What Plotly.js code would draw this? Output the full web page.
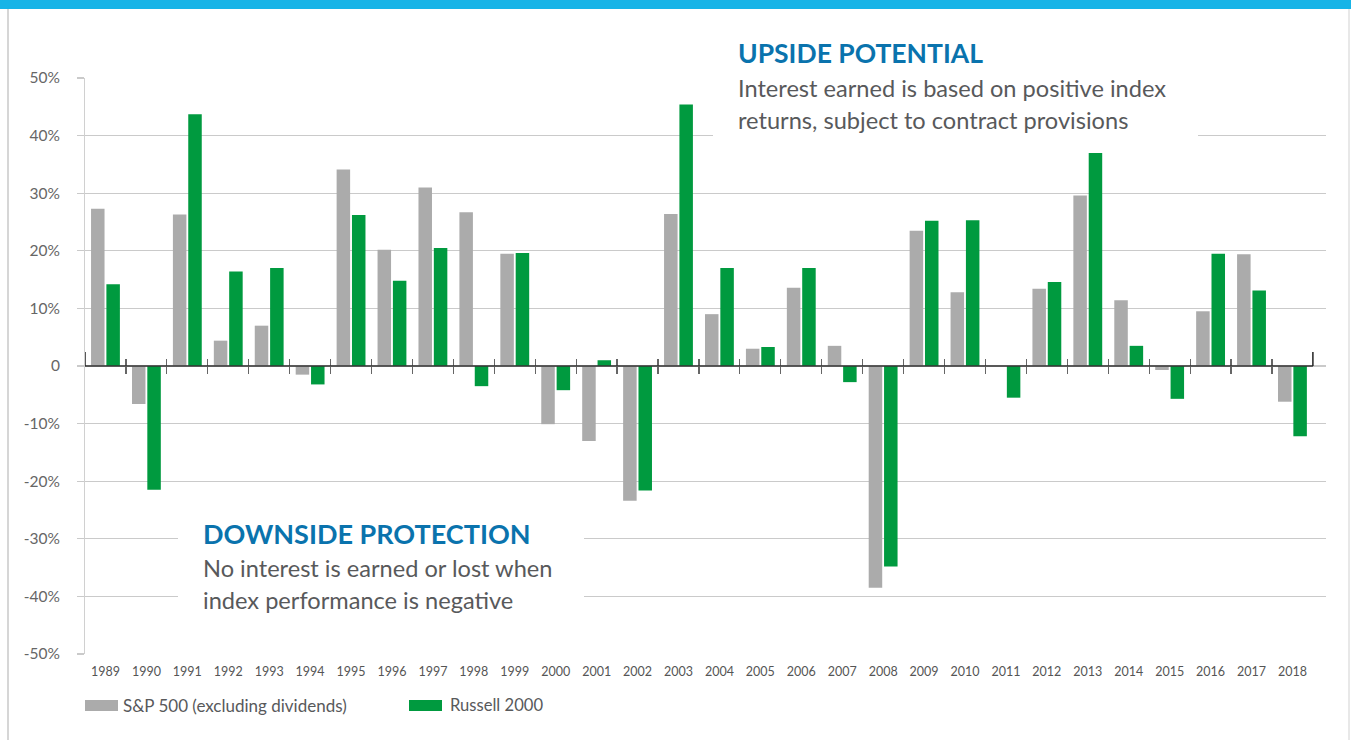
<!DOCTYPE html>
<html>
<head>
<meta charset="utf-8">
<script src="https://cdn.plot.ly/plotly-3.0.1.min.js"></script>
<style>
  html, body { margin: 0; padding: 0; background: #ffffff; }
  #chart { width: 1351px; height: 740px; }
</style>
</head>
<body>
<div id="chart"></div>
<script>
// ---- data ----
const years = ["1989","1990","1991","1992","1993","1994","1995","1996","1997","1998",
               "1999","2000","2001","2002","2003","2004","2005","2006","2007","2008",
               "2009","2010","2011","2012","2013","2014","2015","2016","2017","2018"];
const sp500 = [27.3, -6.6, 26.3, 4.4, 7.0, -1.5, 34.1, 20.2, 31.0, 26.7,
               19.5, -10.1, -13.0, -23.4, 26.4, 9.0, 3.0, 13.6, 3.5, -38.5,
               23.5, 12.8, 0.0, 13.4, 29.6, 11.4, -0.7, 9.5, 19.4, -6.2];
const russell = [14.2, -21.5, 43.7, 16.4, 17.0, -3.2, 26.2, 14.8, 20.5, -3.5,
                 19.6, -4.2, 1.0, -21.6, 45.4, 17.0, 3.3, 17.0, -2.8, -34.8,
                 25.2, 25.3, -5.5, 14.6, 37.0, 3.5, -5.7, 19.5, 13.1, -12.2];
const seriesNames = ["S&P 500 (excluding dividends)", "Russell 2000"];
const yTickVals = [50, 40, 30, 20, 10, 0, -10, -20, -30, -40, -50];
const yTickText = ["50%", "40%", "30%", "20%", "10%", "0", "-10%", "-20%", "-30%", "-40%", "-50%"];
const upTitle = "UPSIDE POTENTIAL";
const upBody = ["Interest earned is based on positive index", "returns, subject to contract provisions"];
const downTitle = "DOWNSIDE PROTECTION";
const downBody = ["No interest is earned or lost when", "index performance is negative"];

// ---- style ----
const GRAY = "#ababab", GREEN = "#009a3f", BLUE = "#0a73ad", TEXT = "#58595b";
const FONT = "Lato, 'Open Sans', sans-serif";
const xRange = [-0.5, years.length - 0.5 + 0.32];
const boundaries = years.slice(1).map((_, i) => i + 0.5);
const idx = years.map((_, i) => i);

const traces = [
  { type: "bar", x: years, y: sp500, name: seriesNames[0], marker: { color: GRAY }, showlegend: false, hoverinfo: "x+y" },
  { type: "bar", x: years, y: russell, name: seriesNames[1], marker: { color: GREEN }, showlegend: false, hoverinfo: "x+y" },
  // invisible carriers so the zero-line tick axes are drawn
  { type: "scatter", mode: "markers", x: idx, y: sp500, xaxis: "x2", yaxis: "y", marker: { opacity: 0, size: 1 }, hoverinfo: "skip", showlegend: false },
  { type: "scatter", mode: "markers", x: idx, y: russell, xaxis: "x3", yaxis: "y", marker: { opacity: 0, size: 1 }, hoverinfo: "skip", showlegend: false }
];

function px2x(px) { return (px - 85) / 1241; }
function px2y(py) { return (654 - py) / 576; }

const shapes = [
  // top blue band
  { type: "rect", xref: "paper", yref: "paper", x0: px2x(0), x1: px2x(1351), y0: px2y(0), y1: px2y(9), fillcolor: "#17b4e7", line: { width: 0 }, layer: "above" },
  // side borders
  { type: "line", xref: "paper", yref: "paper", x0: px2x(8), x1: px2x(8), y0: px2y(9), y1: px2y(740), line: { color: "#c8c8c8", width: 1.5 } },
  { type: "line", xref: "paper", yref: "paper", x0: px2x(1349), x1: px2x(1349), y0: px2y(9), y1: px2y(740), line: { color: "#e0e0e0", width: 1.5 } },
  // white boxes behind callouts
  { type: "rect", xref: "paper", yref: "paper", x0: px2x(713), x1: px2x(1198), y0: px2y(32), y1: px2y(148), fillcolor: "#ffffff", line: { width: 0 }, layer: "above" },
  { type: "rect", xref: "paper", yref: "paper", x0: px2x(178), x1: px2x(584), y0: px2y(510), y1: px2y(622), fillcolor: "#ffffff", line: { width: 0 }, layer: "above" },
  // zero axis line
  { type: "line", xref: "x", yref: "y", x0: -0.5, x1: years.length - 0.5, y0: 0, y1: 0, line: { color: "#333333", width: 1.5 }, layer: "above" },
  { type: "line", xref: "x", yref: "paper", x0: -0.5, x1: -0.5, y0: 0.5, y1: 0.5 + 14 / 576, line: { color: "#222222", width: 1.5 }, layer: "above" },
  { type: "line", xref: "x", yref: "paper", x0: years.length - 0.5, x1: years.length - 0.5, y0: 0.5, y1: 0.5 + 14 / 576, line: { color: "#222222", width: 1.5 }, layer: "above" },
  // legend swatches
  { type: "rect", xref: "paper", yref: "paper", x0: px2x(85), x1: px2x(118), y0: px2y(700), y1: px2y(711), fillcolor: GRAY, line: { width: 0 } },
  { type: "rect", xref: "paper", yref: "paper", x0: px2x(409), x1: px2x(442), y0: px2y(700), y1: px2y(711), fillcolor: GREEN, line: { width: 0 } }
];

function note(text, px, py, size, color, bold) {
  return { xref: "paper", yref: "paper", x: px2x(px), y: px2y(py), xanchor: "left", yanchor: "middle",
           text: bold ? "<b>" + text + "</b>" : text, showarrow: false, borderpad: 0,
           font: { family: FONT, size: size, color: color } };
}

const annotations = [
  note(upTitle, 737, 53, 26.5, BLUE, true),
  note(upBody[0], 737, 88, 23.6, TEXT, false),
  note(upBody[1], 737, 120, 23.6, TEXT, false),
  note(downTitle, 202, 533, 27, BLUE, true),
  note(downBody[0], 202, 568, 23.6, TEXT, false),
  note(downBody[1], 202, 600, 23.6, TEXT, false),
  note(seriesNames[0], 122, 705, 17, TEXT, false),
  note(seriesNames[1], 449, 705, 16.6, TEXT, false)
];

const tickAxis = (side) => ({
  overlaying: "x", anchor: "free", position: 0.5, type: "linear", range: xRange,
  showgrid: false, zeroline: false, showline: false, showticklabels: false,
  tickmode: "array", tickvals: boundaries, ticks: side, ticklen: 7, tickwidth: 1.2, tickcolor: "#666666", fixedrange: true
});

const layout = {
  width: 1351, height: 740,
  margin: { l: 85, r: 25, t: 78, b: 86, pad: 0 },
  paper_bgcolor: "#ffffff", plot_bgcolor: "#ffffff",
  font: { family: FONT, color: TEXT },
  barmode: "group", bargap: 0.25, bargroupgap: 0.12,
  showlegend: false,
  xaxis: {
    type: "category", range: xRange, showgrid: false, zeroline: false, showline: false, ticks: "",
    tickfont: { family: FONT, size: 12.5, color: "#555555" }, ticklabelstandoff: 8, fixedrange: true
  },
  xaxis2: tickAxis("outside"),
  xaxis3: tickAxis("inside"),
  yaxis: {
    range: [-50, 50], tickmode: "array", tickvals: yTickVals, ticktext: yTickText,
    showgrid: true, gridcolor: "#cacaca", gridwidth: 1.2, zeroline: false,
    showline: true, linecolor: "#d0d0d0", linewidth: 1,
    ticks: "outside", ticklen: 7, tickcolor: "#cacaca", tickwidth: 1.2, ticklabelstandoff: 14,
    tickfont: { family: FONT, size: 15.5, color: "#666666" }, fixedrange: true
  },
  shapes: shapes,
  annotations: annotations
};

Plotly.newPlot("chart", traces, layout, { displayModeBar: false, staticPlot: true });
</script>
</body>
</html>
